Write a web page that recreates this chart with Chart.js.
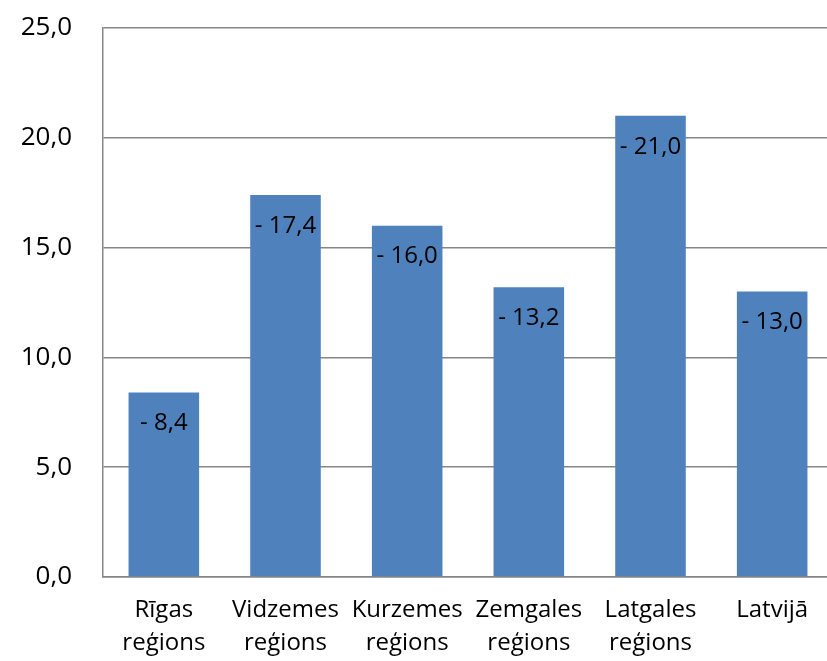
<!DOCTYPE html>
<html>
<head>
<meta charset="utf-8">
<script src="https://cdn.jsdelivr.net/npm/chart.js@4/dist/chart.umd.min.js"></script>
<style>
  html, body { margin: 0; padding: 0; background: #fff; overflow: hidden; }
  #wrap { width: 833px; height: 661px; }
</style>
</head>
<body>
<div id="wrap"><canvas id="canvas"></canvas></div>
<script>
const regions = [
  ['Rīgas', 'reģions'],
  ['Vidzemes', 'reģions'],
  ['Kurzemes', 'reģions'],
  ['Zemgales', 'reģions'],
  ['Latgales', 'reģions'],
  ['Latvijā']
];
const values = [8.4, 17.4, 16.0, 13.2, 21.0, 13.0];
const yTicks = [0, 5, 10, 15, 20, 25];

const FONT = '"Open Sans", sans-serif';
const fmt = v => v.toFixed(1).replace('.', ',');

// value labels drawn inside the top of each bar
const barLabels = {
  id: 'barLabels',
  afterDatasetsDraw(chart) {
    const ctx = chart.ctx;
    const meta = chart.getDatasetMeta(0);
    ctx.save();
    ctx.font = '24px ' + FONT;
    ctx.fillStyle = '#000';
    ctx.textAlign = 'center';
    ctx.textBaseline = 'middle';
    meta.data.forEach((bar, i) => {
      ctx.fillText('- ' + fmt(values[i]), bar.x, bar.y + 31);
    });
    ctx.restore();
  }
};

const ctx = document.getElementById('canvas');
new Chart(ctx, {
  type: 'bar',
  data: {
    labels: regions,
    datasets: [{
      data: values,
      backgroundColor: '#4F81BD',
      barPercentage: 0.58,
      categoryPercentage: 1
    }]
  },
  options: {
    responsive: true,
    maintainAspectRatio: false,
    animation: false,
    layout: { padding: { top: 28, right: 0, left: 0, bottom: 0 } },
    plugins: {
      legend: { display: false },
      tooltip: { enabled: false }
    },
    scales: {
      x: {
        grid: { display: false },
        border: { display: true, color: '#868686', width: 1.5 },
        ticks: {
          color: '#000',
          font: { family: FONT, size: 24, lineHeight: 1.4 },
          padding: 8,
          maxRotation: 0,
          autoSkip: false
        },
        afterFit(scale) {
          scale.height = 84;
          scale.paddingLeft = 0;
          scale.paddingRight = 0;
        }
      },
      y: {
        min: 0,
        max: 25,
        afterBuildTicks(scale) { scale.ticks = yTicks.map(v => ({ value: v })); },
        grid: { color: '#868686', lineWidth: 1.5, drawTicks: false },
        border: { display: true, color: '#868686', width: 1.5 },
        ticks: {
          color: '#000',
          font: { family: FONT, size: 26 },
          padding: 31,
          callback: v => fmt(v)
        },
        afterFit(scale) {
          scale.width = 103;
          scale.paddingTop = 0;
          scale.paddingBottom = 0;
        }
      }
    }
  },
  plugins: [barLabels]
});
</script>
</body>
</html>
